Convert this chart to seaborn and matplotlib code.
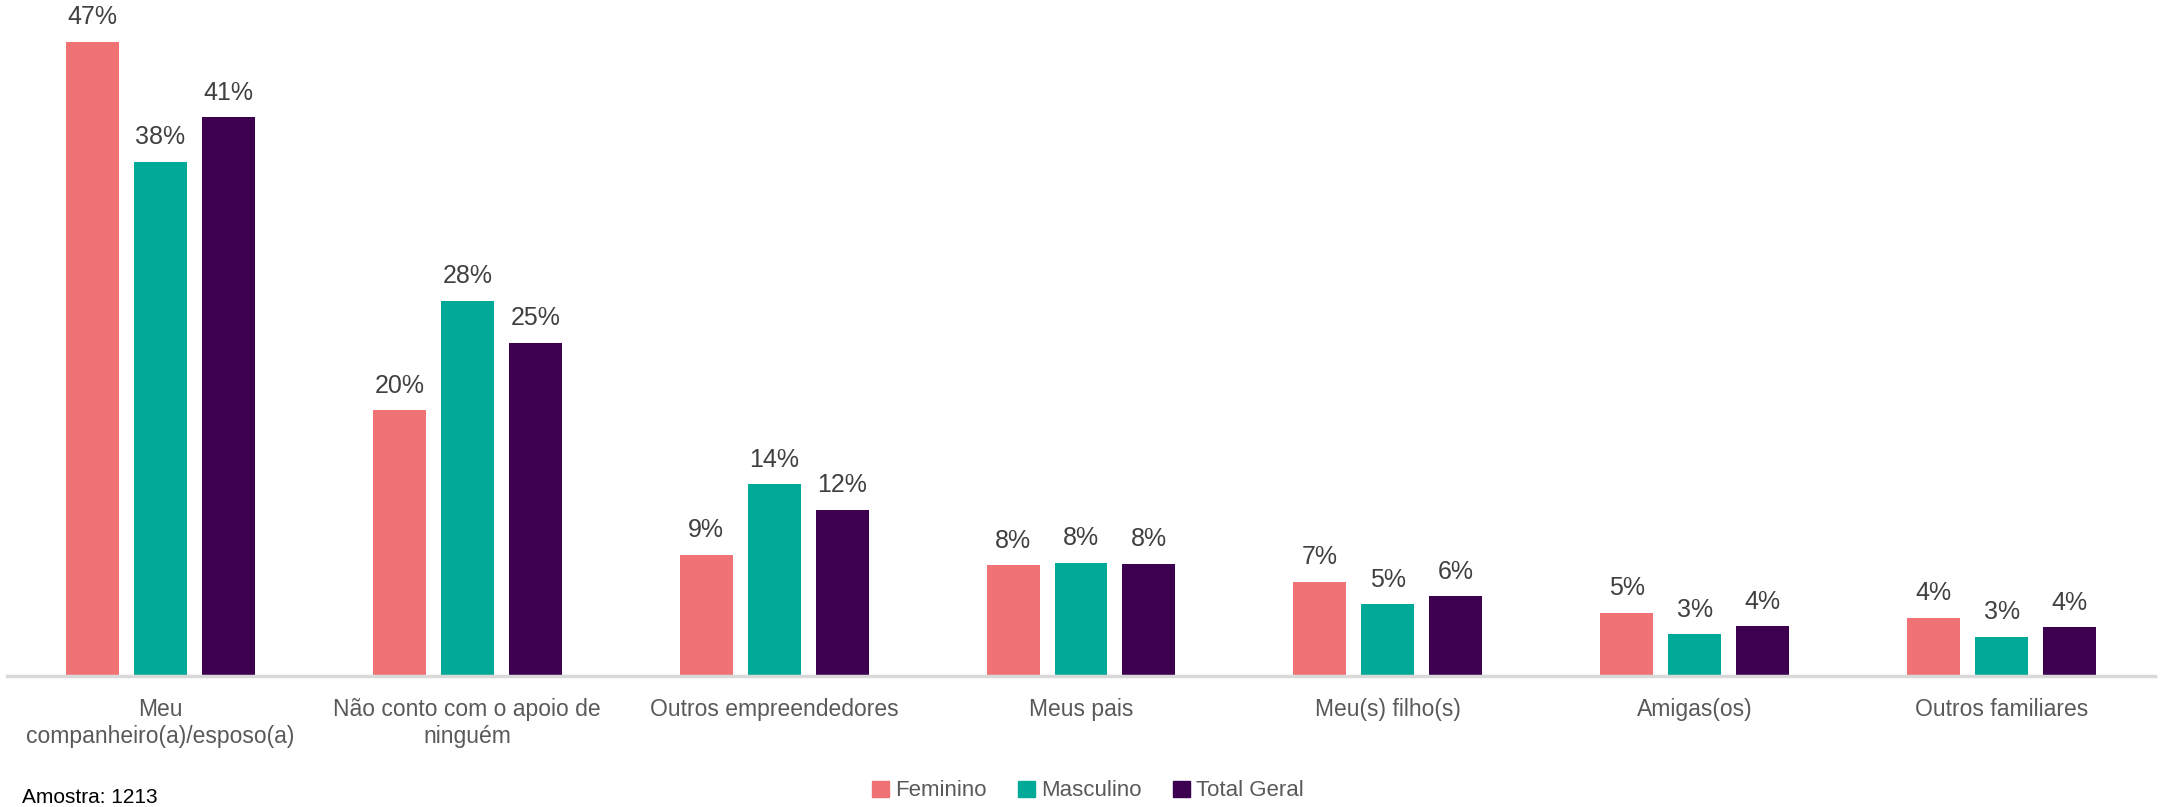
import matplotlib
matplotlib.use("Agg")
import matplotlib.pyplot as plt
import seaborn as sns
import pandas as pd

categories = ["Meu\ncompanheiro(a)/esposo(a)", "Não conto com o apoio de\nninguém",
              "Outros empreendedores", "Meus pais", "Meu(s) filho(s)", "Amigas(os)",
              "Outros familiares"]
series = ["Feminino", "Masculino", "Total Geral"]
feminino = [47.0, 19.7, 9.0, 8.2, 7.0, 4.7, 4.3]
masculino = [38.1, 27.8, 14.2, 8.4, 5.3, 3.1, 2.9]
total = [41.4, 24.7, 12.3, 8.3, 5.9, 3.7, 3.6]
colors = ["#F17275", "#00AA96", "#3D0050"]

rows = []
for s, vals in zip(series, [feminino, masculino, total]):
    for c, v in zip(categories, vals):
        rows.append({"cat": c, "serie": s, "val": v})
df = pd.DataFrame(rows)

sns.set_theme(style="white")
plt.rcParams['font.family'] = ['Liberation Sans', 'DejaVu Sans']

fig = plt.figure(figsize=(21.6, 8.07), dpi=100)
ax = fig.add_axes([7/2160, 1-676/807, 2148/2160, 675/807])
sns.barplot(data=df, x="cat", y="val", hue="serie", palette=colors, order=categories,
            hue_order=series, width=0.664, gap=0.22, ax=ax, legend=False,
            edgecolor="none", saturation=1)
ax.set_ylim(0, 50)
ax.set_xlim(-0.5, len(categories) - 0.5)
ax.set_yticks([])
ax.set_xlabel("")
ax.set_ylabel("")
for sp in ["top", "right", "left"]:
    ax.spines[sp].set_visible(False)
ax.spines["bottom"].set_color("#D9D9D9")
ax.spines["bottom"].set_linewidth(2.5)
ax.tick_params(axis="x", length=0, pad=16, labelsize=16.5, labelcolor="#595959")

for cont in ax.containers:
    for bar in cont:
        h = bar.get_height()
        ax.annotate(f"{h:.0f}%", (bar.get_x() + bar.get_width()/2, h),
                    xytext=(0, 9), textcoords="offset points", ha="center", va="bottom",
                    fontsize=18, color="#404040")

handles = [plt.Rectangle((0, 0), 1, 1, color=c) for c in colors]
fig.legend(handles, series, loc="center", bbox_to_anchor=(1088/2160, 1-791/807),
           ncol=3, frameon=False, fontsize=16, labelcolor="#595959",
           handlelength=0.75, handleheight=0.75, handletextpad=0.3, columnspacing=1.4)

fig.text(22/2160, 4/807, "Amostra: 1213", ha="left", va="baseline", fontsize=15, color="#000000")

fig.savefig("out.png", dpi=100)
